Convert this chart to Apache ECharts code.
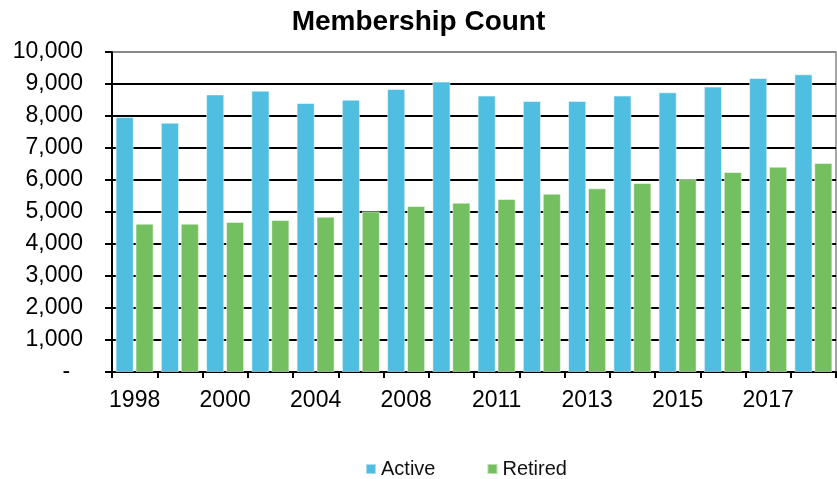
<!DOCTYPE html>
<html>
<head>
<meta charset="utf-8">
<script src="https://cdn.jsdelivr.net/npm/echarts@6/dist/echarts.min.js"></script>
<style>
html,body{margin:0;padding:0;background:#fff;}
#c{width:837px;height:479px;}
</style>
</head>
<body>
<div id="c"></div>
<script>
var categories = ['1998','1999','2000','2002','2004','2006','2008','2010','2011','2012','2013','2014','2015','2016','2017','2018'];
var activeValues = [7970, 7790, 8675, 8790, 8406, 8509, 8843, 9075, 8638, 8469, 8469, 8638, 8740, 8919, 9188, 9303];
var retiredValues = [4635, 4635, 4688, 4750, 4854, 5020, 5187, 5290, 5406, 5573, 5740, 5906, 6031, 6250, 6416, 6531];
var yTicks = [0, 1000, 2000, 3000, 4000, 5000, 6000, 7000, 8000, 9000, 10000];

var FONT = "'Liberation Sans', Arial, sans-serif";
var gridColors = yTicks.map(function(v, i){ return i === yTicks.length - 1 ? '#888' : '#000'; });

var chart = echarts.init(document.getElementById('c'), null, {renderer: 'canvas'});
chart.setOption({
  animation: false,
  backgroundColor: '#fff',
  title: {
    text: 'Membership Count',
    left: 'center',
    top: 3,
    textStyle: {fontFamily: FONT, fontSize: 28, fontWeight: 'bold', color: '#000'}
  },
  legend: {
    data: ['Active', 'Retired'],
    left: 360,
    top: 454,
    itemWidth: 10,
    itemHeight: 10,
    itemGap: 51,
    icon: 'rect',
    textStyle: {fontFamily: FONT, fontSize: 20, color: '#111'}
  },
  grid: {left: 112, right: 1, top: 52, bottom: 107, show: true, borderColor: '#888', borderWidth: 1.5},
  xAxis: {
    type: 'category',
    data: categories,
    boundaryGap: true,
    axisLine: {lineStyle: {color: '#000', width: 2}},
    axisTick: {show: true, interval: 0, length: 6, lineStyle: {color: '#000', width: 2}},
    axisLabel: {interval: 1, margin: 17, fontFamily: FONT, fontSize: 23, color: '#000'},
    splitLine: {show: false}
  },
  yAxis: {
    type: 'value',
    min: 0,
    max: 10000,
    interval: 1000,
    axisLine: {show: true, lineStyle: {color: '#000', width: 2}},
    axisTick: {show: true, length: 7, lineStyle: {color: '#000', width: 2}},
    axisLabel: {
      margin: 29,
      fontFamily: FONT, fontSize: 23, color: '#000',
      formatter: function(v){ return v === 0 ? '-  ' : v.toLocaleString('en-US'); }
    },
    splitLine: {show: true, lineStyle: {color: gridColors, width: 2}}
  },
  series: [
    {
      name: 'Active', type: 'bar', data: activeValues,
      barWidth: '40%', barGap: '10%',
      itemStyle: {color: '#4FBEE0', borderColor: 'rgba(255,255,255,0.5)', borderWidth: 1}
    },
    {
      name: 'Retired', type: 'bar', data: retiredValues,
      barWidth: '40%', barGap: '10%',
      itemStyle: {color: '#74BF5F', borderColor: 'rgba(255,255,255,0.5)', borderWidth: 1}
    }
  ]
});
</script>
</body>
</html>
